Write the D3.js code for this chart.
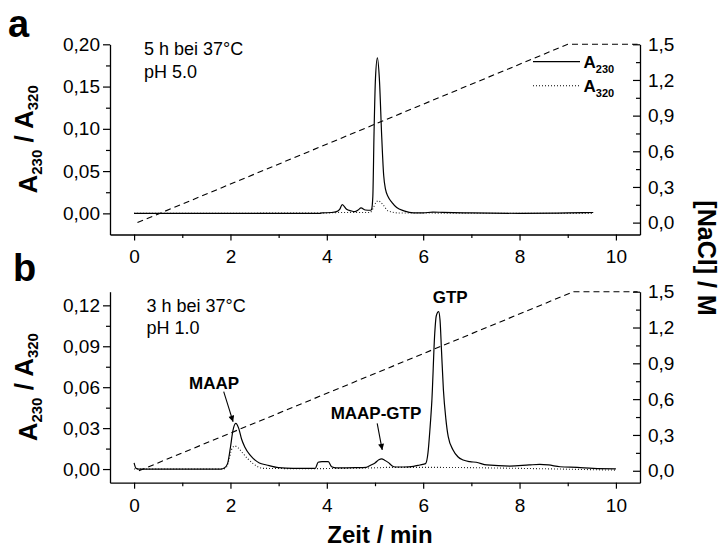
<!DOCTYPE html>
<html>
<head>
<meta charset="utf-8">
<script src="https://cdn.jsdelivr.net/npm/d3@7"></script>
<style>
  body { margin: 0; background: #fff; }
  svg { display: block; }
  text { font-family: "Liberation Sans", Arial, Helvetica, sans-serif; fill: #000; }
</style>
</head>
<body>
<svg id="chart" width="723" height="550"></svg>
<script>
// ---- tick values ----
const xTicks = [0, 2, 4, 6, 8, 10];
const absTicksA = [0, 0.05, 0.10, 0.15, 0.20];
const absTicksB = [0, 0.03, 0.06, 0.09, 0.12];
const naclTicks = [0, 0.3, 0.6, 0.9, 1.2, 1.5];

// ---- panel a: 5 h at 37 °C, pH 5.0 ----
const timeA230 = [0, 3.85, 3.9, 4.1, 4.2, 4.27, 4.32, 4.41, 4.5, 4.58, 4.65, 4.71, 4.8, 4.91, 4.93, 4.955, 4.98, 5.01, 5.05, 5.09, 5.14, 5.18, 5.22, 5.27, 5.35, 5.45, 5.6, 5.8, 6.0, 6.2, 6.4, 7.0, 8.0, 9.0, 9.53];
const absA230  = [0, 0, 0.0005, 0.001, 0.002, 0.005, 0.0103, 0.005, 0.003, 0.002, 0.004, 0.0064, 0.004, 0.0037, 0.005, 0.02, 0.095, 0.16, 0.184, 0.16, 0.09, 0.045, 0.028, 0.02, 0.013, 0.007, 0.003, 0.0005, 0.0005, 0.0015, 0.0012, 0.0005, 0, 0.0005, 0.001];
const timeA320 = [0, 4.0, 4.3, 4.9, 4.96, 5.02, 5.07, 5.12, 5.17, 5.27, 5.5, 9.5];
const absA320  = [0, 0.0005, 0.001, 0.001, 0.006, 0.013, 0.015, 0.013, 0.01, 0.003, 0.0005, 0];
const gradTimeA = [0.07, 9.0, 10.45];
const gradNaclA = [0, 1.5, 1.5];

// ---- panel b: 3 h at 37 °C, pH 1.0 ----
const timeB230 = [0, 0.04, 0.1, 1.8, 1.88, 1.94, 2.0, 2.05, 2.11, 2.17, 2.23, 2.3, 2.4, 2.47, 2.6, 2.75, 3.0, 3.3, 3.76, 3.82, 3.9, 4.03, 4.1, 4.2, 4.6, 4.82, 4.92, 5.0, 5.08, 5.14, 5.2, 5.28, 5.35, 5.42, 5.6, 5.8, 5.93, 6.05, 6.1, 6.14, 6.18, 6.24, 6.27, 6.32, 6.35, 6.38, 6.42, 6.47, 6.52, 6.62, 6.72, 6.83, 6.97, 7.1, 7.32, 7.8, 8.2, 8.42, 8.6, 8.84, 9.2, 9.53, 10.0];
const absB230  = [0.0045, 0.0005, 0, 0, 0.001, 0.004, 0.016, 0.028, 0.0335, 0.03, 0.022, 0.016, 0.0105, 0.0078, 0.0045, 0.003, 0.001, 0.0005, 0.0005, 0.005, 0.0055, 0.0054, 0.0017, 0.0008, 0.001, 0.0013, 0.003, 0.0045, 0.0068, 0.0074, 0.0065, 0.0047, 0.0025, 0.0015, 0.0015, 0.002, 0.003, 0.004, 0.012, 0.029, 0.05, 0.0995, 0.112, 0.1154, 0.109, 0.087, 0.058, 0.037, 0.0237, 0.014, 0.009, 0.0066, 0.0054, 0.005, 0.003, 0.0022, 0.003, 0.0034, 0.003, 0.0017, 0.0012, 0.0005, 0.0002];
const timeB320 = [0, 1.85, 1.92, 1.97, 2.02, 2.09, 2.16, 2.26, 2.36, 2.47, 2.58, 2.68, 3.5, 5.1, 5.2, 6.3, 8.0, 10.0];
const absB320  = [0, 0, 0.0015, 0.007, 0.014, 0.0169, 0.0155, 0.0115, 0.0075, 0.004, 0.0015, 0.0005, 0.0003, 0.001, 0.0012, 0.0012, 0.0005, -0.0008];
const gradTimeB = [0.1, 9.12, 10.45];
const gradNaclB = [0, 1.5, 1.5];

// ---- peak annotations in panel b (time, absorbance) ----
const peakLabels = ["MAAP", "MAAP-GTP", "GTP"];
const peakLabelTime = [1.66, 5.02, 6.56];
const peakLabelAbs  = [0.0587, 0.0367, 0.122];
const arrowFrom = [[1.86, 0.0567], [5.045, 0.0335]];
const arrowTo   = [[2.055, 0.0347], [5.15, 0.014]];

// ---- layout ----
const svg = d3.select("#chart");
const plotLeft = 110, plotRight = 640;
const x = d3.scaleLinear().domain([-0.5, 10.5]).range([plotLeft, plotRight]);

const locale = d3.formatLocale({ decimal: ",", thousands: ".", grouping: [3], currency: ["", ""] });
const fmt2 = locale.format(".2f");
const fmt1 = locale.format(".1f");

function minorsOf(ticks, domain) {
  const step = ticks[1] - ticks[0];
  const out = [];
  for (let v = ticks[0] - step / 2; v <= ticks[ticks.length - 1] + step / 2 + 1e-9; v += step) {
    if (v > domain[0] + 1e-9 && v < domain[1] - 1e-9 && !ticks.some(t => Math.abs(t - v) < 1e-9)) out.push(v);
  }
  return out;
}

// arrow marker
svg.append("defs").append("marker")
  .attr("id", "arrowhead")
  .attr("viewBox", "0 0 10 10")
  .attr("refX", 10).attr("refY", 5)
  .attr("markerUnits", "userSpaceOnUse")
  .attr("markerWidth", 8).attr("markerHeight", 6)
  .attr("orient", "auto")
  .append("path").attr("d", "M0,0 L10,5 L0,10 z").attr("fill", "#000");

const panels = [
  { top: 44.3, bottom: 234.5, yDomain: [-0.025, 0.2], yTicks: absTicksA,
    t230: timeA230, a230: absA230, t320: timeA320, a320: absA320, gT: gradTimeA, gC: gradNaclA,
    letter: "a", letterX: 8, letterY: 37,
    notes: ["5 h bei 37°C", "pH 5.0"], noteX: 144, noteY: 55 },
  { top: 291.7, bottom: 482.7, yDomain: [-0.01, 0.13], yTicks: absTicksB,
    t230: timeB230, a230: absB230, t320: timeB320, a320: absB320, gT: gradTimeB, gC: gradNaclB,
    letter: "b", letterX: 13, letterY: 281,
    notes: ["3 h bei 37°C", "pH 1.0"], noteX: 146.5, noteY: 311.5 }
];

const tickFont = 19;

panels.forEach((p, i) => {
  const y = d3.scaleLinear().domain(p.yDomain).range([p.bottom, p.top]);
  const yR = d3.scaleLinear().domain([-0.1, 1.5]).range([p.bottom, p.top]);
  const g = svg.append("g");

  // salt gradient (right axis)
  const gradLine = d3.line().x(d => x(d[0])).y(d => yR(d[1]));
  g.append("path")
    .datum(p.gT.map((t, k) => [t, p.gC[k]]))
    .attr("d", gradLine)
    .attr("fill", "none").attr("stroke", "#000").attr("stroke-width", 1.1)
    .attr("stroke-dasharray", "6,4");

  const absLine = d3.line().x(d => x(d[0])).y(d => y(d[1])).curve(d3.curveMonotoneX);
  // A320 dotted trace
  g.append("path")
    .datum(p.t320.map((t, k) => [t, p.a320[k]]))
    .attr("d", absLine)
    .attr("fill", "none").attr("stroke", "#222").attr("stroke-width", 1.1)
    .attr("stroke-dasharray", "1,2");
  // A230 solid trace
  g.append("path")
    .datum(p.t230.map((t, k) => [t, p.a230[k]]))
    .attr("d", absLine)
    .attr("fill", "none").attr("stroke", "#000").attr("stroke-width", 1.2)
    .attr("stroke-linejoin", "round");

  // axes
  const styleAxis = sel => {
    sel.attr("color", "#000");
    sel.selectAll("path.domain").attr("stroke-width", 1.3);
    sel.selectAll("line").attr("stroke-width", 1.2);
    sel.selectAll("text").attr("font-size", tickFont).attr("font-family", "Liberation Sans, Arial, sans-serif");
  };

  // bottom
  g.append("g").attr("transform", `translate(0,${p.bottom})`)
    .call(d3.axisBottom(x).tickValues(xTicks).tickSize(6).tickSizeOuter(0).tickPadding(9.5).tickFormat(d3.format("d")))
    .call(styleAxis);
  g.append("g").attr("transform", `translate(0,${p.bottom})`)
    .call(d3.axisBottom(x).tickValues(minorsOf(xTicks, x.domain())).tickSize(3.5).tickSizeOuter(0).tickFormat(""))
    .call(styleAxis).select("path.domain").remove();

  // left
  g.append("g").attr("transform", `translate(${plotLeft},0)`)
    .call(d3.axisLeft(y).tickValues(p.yTicks).tickSize(7).tickSizeOuter(0).tickPadding(3).tickFormat(fmt2))
    .call(styleAxis);
  g.append("g").attr("transform", `translate(${plotLeft},0)`)
    .call(d3.axisLeft(y).tickValues(minorsOf(p.yTicks, p.yDomain)).tickSize(4).tickSizeOuter(0).tickFormat(""))
    .call(styleAxis).select("path.domain").remove();

  // right (ticks pointing inward)
  g.append("g").attr("transform", `translate(${plotRight},0)`)
    .call(d3.axisRight(yR).tickValues(naclTicks).tickSize(-7).tickSizeOuter(0).tickPadding(8).tickFormat(fmt1))
    .call(styleAxis);
  g.append("g").attr("transform", `translate(${plotRight},0)`)
    .call(d3.axisRight(yR).tickValues(minorsOf(naclTicks, yR.domain())).tickSize(-4).tickSizeOuter(0).tickFormat(""))
    .call(styleAxis).select("path.domain").remove();

  // left axis title with subscripts
  const mid = (p.top + p.bottom) / 2;
  const lt = svg.append("text")
    .attr("transform", `translate(37,${mid}) rotate(-90)`)
    .attr("text-anchor", "middle")
    .attr("font-weight", "bold").attr("font-size", 26);
  lt.append("tspan").text("A");
  lt.append("tspan").attr("font-size", 15).attr("dy", "0.35em").text("230");
  lt.append("tspan").attr("dy", "-0.35em").text(" / A");
  lt.append("tspan").attr("font-size", 15).attr("dy", "0.35em").text("320");

  // panel letter
  svg.append("text").attr("x", p.letterX).attr("y", p.letterY)
    .attr("font-weight", "bold").attr("font-size", 38).text(p.letter);

  // condition notes
  p.notes.forEach((n, k) => {
    svg.append("text").attr("x", p.noteX).attr("y", p.noteY + k * 22.5)
      .attr("font-size", 18).text(n);
  });

  if (i === 1) {
    // peak labels and arrows
    peakLabels.forEach((lab, k) => {
      svg.append("text")
        .attr("x", x(peakLabelTime[k])).attr("y", y(peakLabelAbs[k]))
        .attr("text-anchor", "middle").attr("font-weight", "bold").attr("font-size", 17)
        .text(lab);
    });
    arrowFrom.forEach((a, k) => {
      svg.append("line")
        .attr("x1", x(a[0])).attr("y1", y(a[1]))
        .attr("x2", x(arrowTo[k][0])).attr("y2", y(arrowTo[k][1]))
        .attr("stroke", "#000").attr("stroke-width", 1.1)
        .attr("marker-end", "url(#arrowhead)");
    });
  }
});

// legend in panel a
const legend = svg.append("g");
const legendItems = [
  { label: "230", dash: null, y: 61.7 },
  { label: "320", dash: "1,2", y: 85.7 }
];
legendItems.forEach(it => {
  legend.append("line").attr("x1", 533).attr("x2", 580).attr("y1", it.y).attr("y2", it.y)
    .attr("stroke", "#000").attr("stroke-width", it.dash ? 1.1 : 1.2)
    .attr("stroke-dasharray", it.dash);
  const t = legend.append("text").attr("x", 583.5).attr("y", it.y + 6.5)
    .attr("font-weight", "bold").attr("font-size", 17);
  t.append("tspan").text("A");
  t.append("tspan").attr("font-size", 11).attr("dy", "0.45em").text(it.label);
});

// right axis title
svg.append("text")
  .attr("transform", `translate(698,258) rotate(90)`)
  .attr("text-anchor", "middle").attr("font-weight", "bold").attr("font-size", 25)
  .text("[NaCl] / M");

// x axis title
svg.append("text").attr("x", 380).attr("y", 543)
  .attr("text-anchor", "middle").attr("font-weight", "bold").attr("font-size", 24)
  .text("Zeit / min");
</script>
</body>
</html>
